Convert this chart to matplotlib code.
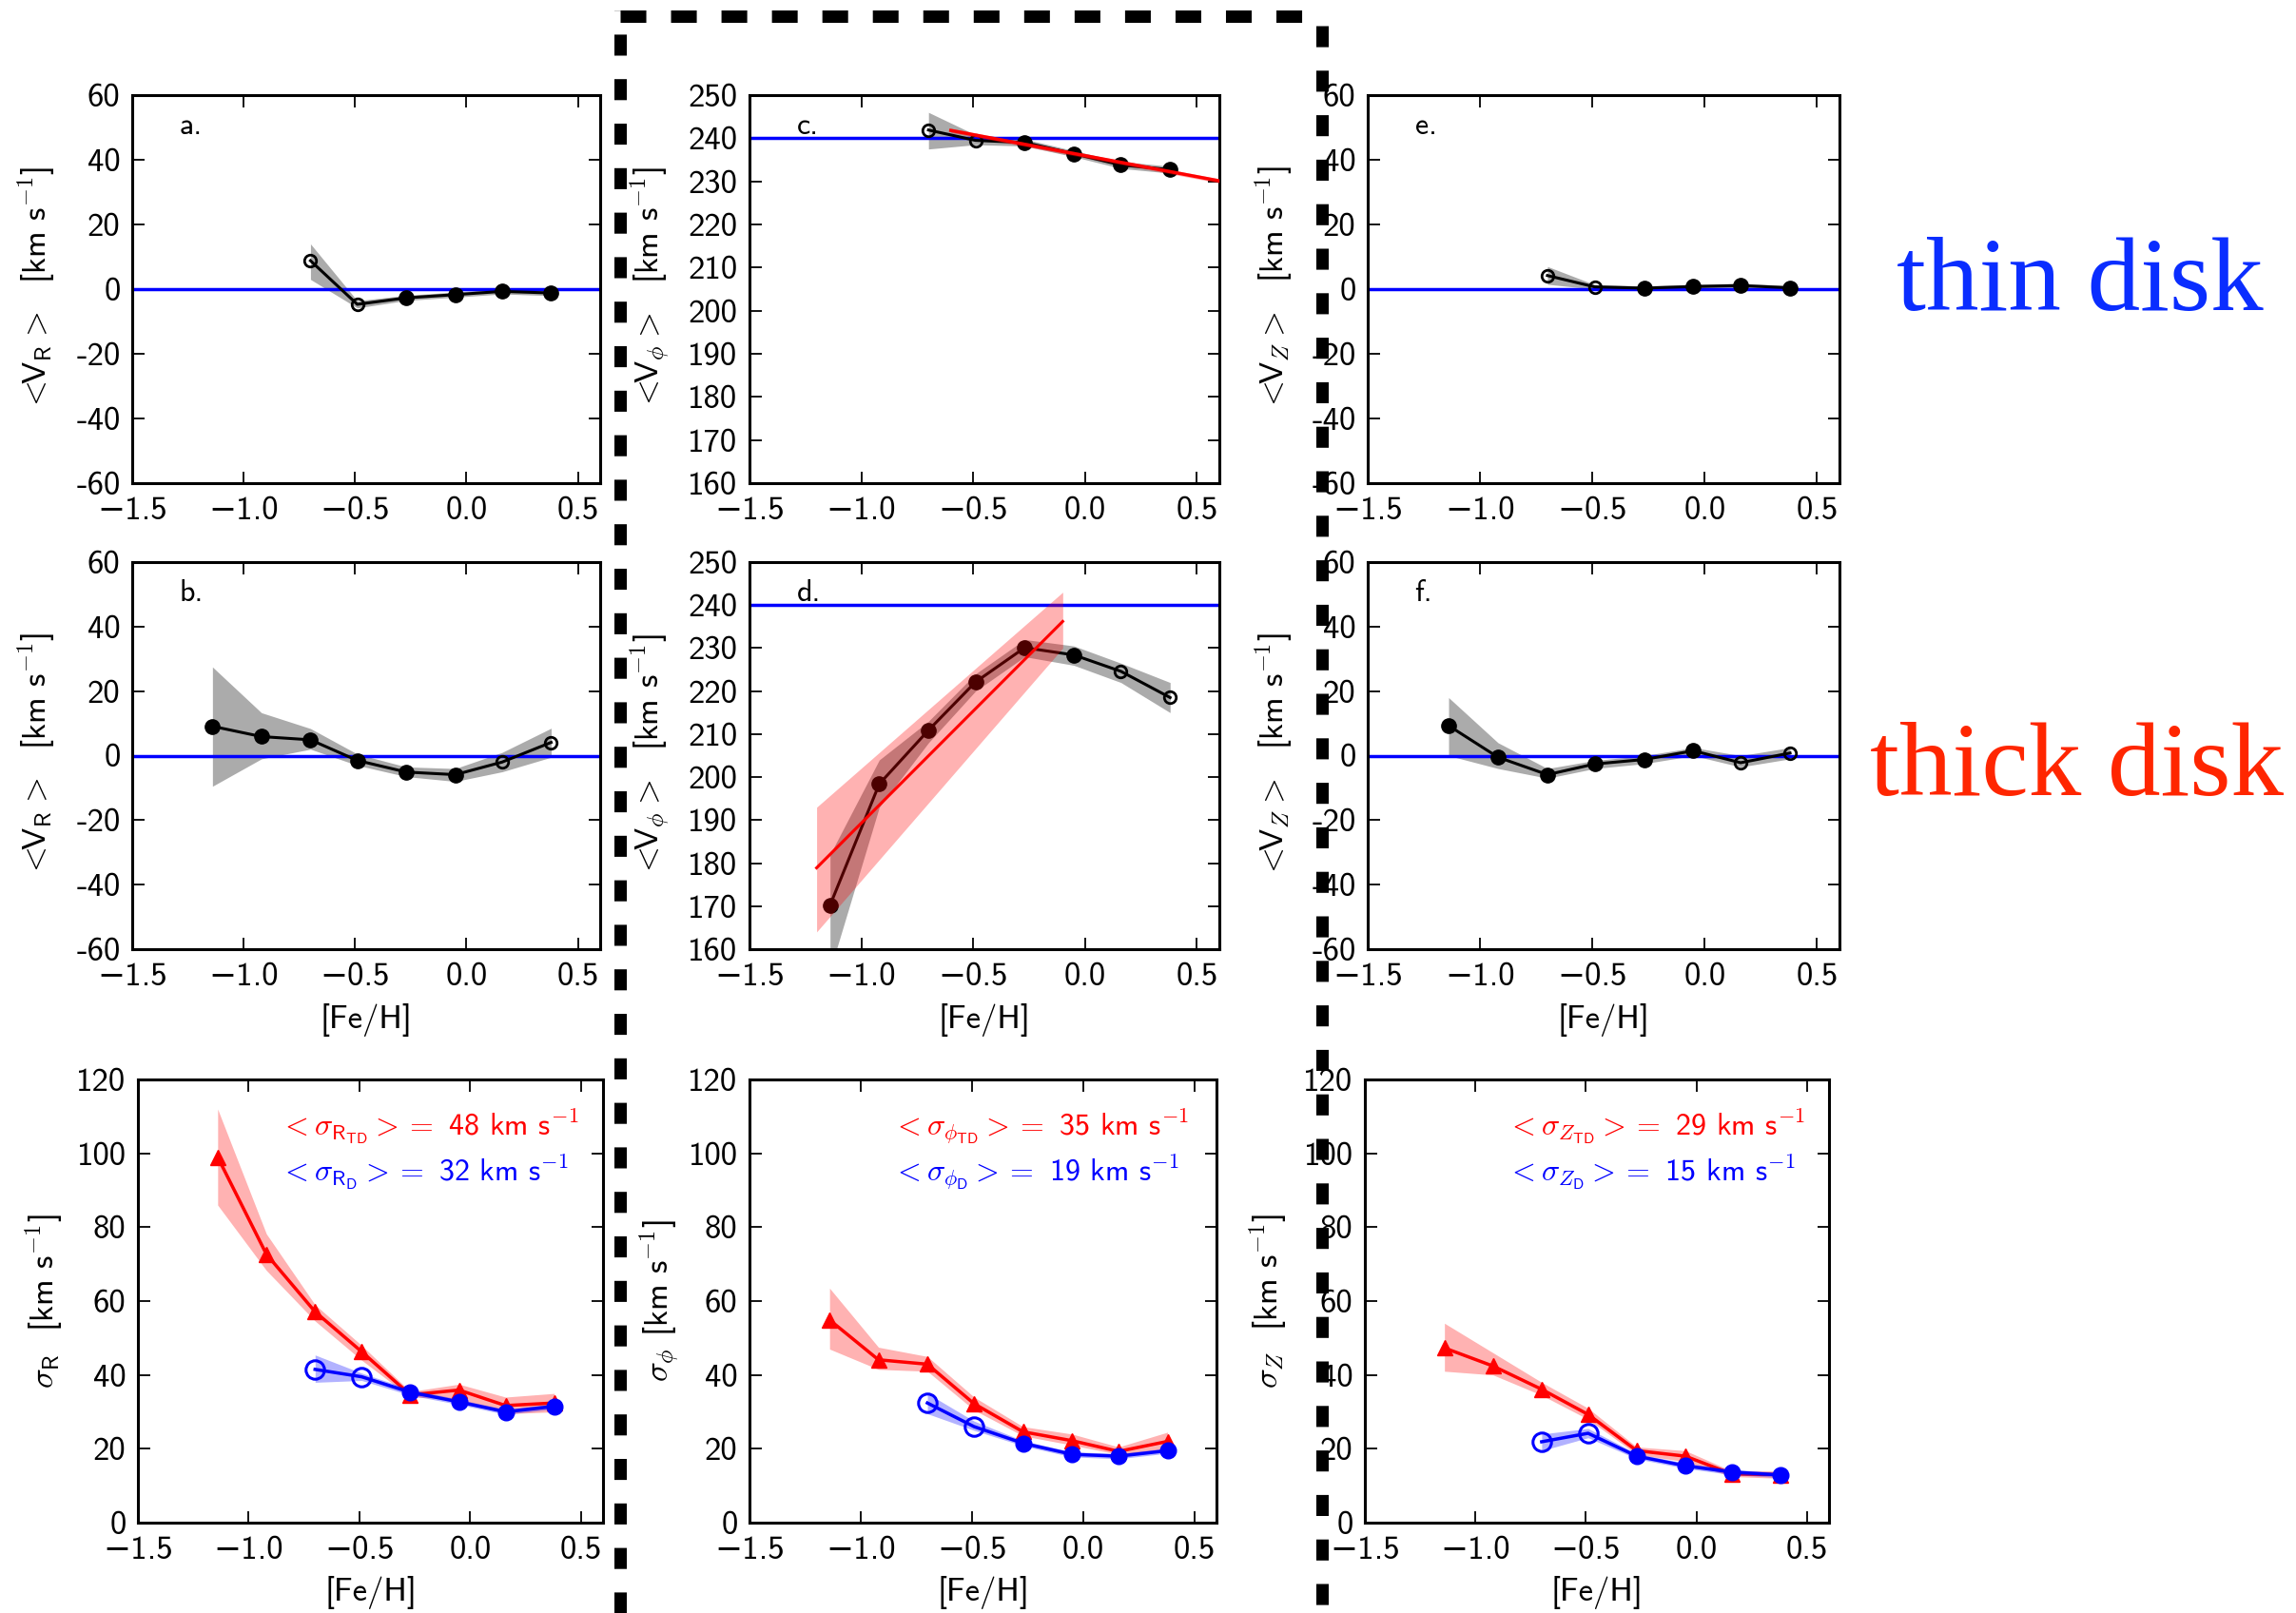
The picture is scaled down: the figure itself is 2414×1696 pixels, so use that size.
import numpy as np
import matplotlib
matplotlib.use("Agg")
import matplotlib.pyplot as plt
from matplotlib.lines import Line2D

plt.rcParams["font.family"] = ["cmss10", "DejaVu Sans"]
plt.rcParams["mathtext.fontset"] = "cm"
plt.rcParams["axes.unicode_minus"] = True

W, H, DPI = 2414, 1696, 100

# -----------------------------
# Data
# -----------------------------
feh = np.array([-1.14, -0.92, -0.70, -0.49, -0.27, -0.05, 0.16, 0.38])
feh_d = feh[2:]                     # thin disk bins
open_d = np.array([True, True, False, False, False, False])
open_td = np.array([False] * 6 + [True, True])

# thin disk mean velocities
vr_d = [8.8, -4.7, -2.7, -1.7, -0.7, -1.2]
vr_d_lo = [3.0, -5.8, -3.5, -2.5, -1.5, -2.0]
vr_d_hi = [14.0, -3.6, -1.9, -0.9, 0.1, -0.4]

vphi_d = [241.9, 239.5, 239.0, 236.4, 233.8, 232.7]
vphi_d_lo = [237.5, 238.5, 238.2, 235.7, 233.0, 231.9]
vphi_d_hi = [246.0, 240.8, 239.8, 237.1, 234.6, 233.5]

vz_d = [4.2, 0.7, 0.3, 0.8, 1.1, 0.4]
vz_d_lo = [1.5, 0.0, -0.4, 0.1, 0.4, -0.3]
vz_d_hi = [7.0, 1.4, 1.0, 1.5, 1.8, 1.1]

# thick disk mean velocities
vr_td = [9.1, 5.9, 4.9, -1.5, -5.1, -5.9, -2.0, 4.1]
vr_td_lo = [-9.5, -1.0, 2.0, -3.0, -6.5, -8.0, -5.0, -0.5]
vr_td_hi = [27.5, 13.3, 8.4, 0.5, -3.5, -4.0, 1.0, 8.5]

vphi_td = [170.2, 198.4, 210.9, 222.1, 230.1, 228.4, 224.6, 218.5]
vphi_td_lo = [155.0, 193.0, 208.0, 220.0, 228.0, 226.0, 222.0, 215.0]
vphi_td_hi = [182.0, 204.0, 213.0, 224.0, 232.0, 230.5, 226.5, 222.0]

vz_td = [9.3, -0.5, -5.9, -2.6, -1.2, 1.5, -2.2, 0.8]
vz_td_lo = [0.0, -4.0, -7.0, -4.0, -2.5, 0.0, -3.5, -1.0]
vz_td_hi = [18.0, 4.0, -4.0, -1.5, 0.0, 2.5, 0.0, 2.5]

# linear fits of V_phi vs [Fe/H]
fit_c_x = [-0.6, 0.6]
fit_c_y = [241.8, 230.1]
fit_c_lo = [241.3, 229.6]
fit_c_hi = [242.3, 230.6]
fit_d_x = [-1.2, -0.1]
fit_d_y = [178.9, 236.2]
fit_d_lo = [164.0, 230.0]
fit_d_hi = [193.0, 243.0]

# velocity dispersions (TD = thick disk, D = thin disk)
sr_td = [99.0, 72.7, 57.1, 46.3, 34.6, 35.9, 31.7, 32.4]
sr_td_lo = [86.0, 68.3, 54.6, 44.0, 34.0, 33.5, 29.5, 30.0]
sr_td_hi = [112.0, 78.2, 59.0, 48.0, 35.5, 37.5, 34.0, 35.0]
sr_d = [41.5, 39.5, 35.3, 32.7, 30.0, 31.5]
sr_d_lo = [38.0, 38.5, 34.5, 32.0, 29.3, 30.8]
sr_d_hi = [45.4, 40.5, 36.1, 33.4, 30.7, 32.2]

sp_td = [54.9, 44.1, 42.9, 32.2, 24.6, 22.2, 19.3, 22.0]
sp_td_lo = [47.0, 41.5, 41.0, 30.5, 23.5, 21.0, 18.5, 19.5]
sp_td_hi = [63.5, 47.5, 45.0, 34.0, 26.0, 24.0, 20.5, 24.5]
sp_d = [32.4, 26.0, 21.5, 18.5, 18.0, 19.5]
sp_d_lo = [29.5, 25.0, 20.8, 17.8, 17.3, 18.8]
sp_d_hi = [35.0, 27.5, 22.2, 19.2, 18.7, 20.2]

sz_td = [47.3, 42.4, 36.1, 29.3, 19.5, 18.0, 13.2, 13.0]
sz_td_lo = [41.0, 40.0, 34.5, 28.0, 18.5, 16.5, 12.5, 12.0]
sz_td_hi = [54.0, 46.0, 38.0, 31.0, 20.5, 19.5, 14.0, 14.0]
sz_d = [21.9, 24.2, 18.0, 15.4, 13.7, 12.9]
sz_d_lo = [19.5, 23.0, 17.3, 14.7, 13.0, 12.2]
sz_d_hi = [24.0, 25.5, 18.7, 16.1, 14.4, 13.6]

mean_sig = {"R": (48, 32), "phi": (35, 19), "Z": (29, 15)}

xticks = [-1.5, -1.0, -0.5, 0.0, 0.5]
xticklabels = ["\u22121.5", "\u22121.0", "\u22120.5", "0.0", "0.5"]
vticks = [-60, -40, -20, 0, 20, 40, 60]
vticklabels = ["-60", "-40", "-20", "0", "20", "40", "60"]
phiticks = list(range(160, 251, 10))
sigticks = list(range(0, 121, 20))

# -----------------------------
# Layout (pixel boxes: left, top, right, bottom)
# -----------------------------
fig = plt.figure(figsize=(W / DPI, H / DPI), dpi=DPI)


def add_ax(l, t, r, b):
    return fig.add_axes([l / W, 1 - b / H, (r - l) / W, (b - t) / H])


rows12 = [(100, 508), (591, 998)]
cols12 = [(139, 631), (788, 1282), (1438, 1934)]
row3 = (1135, 1601)
cols3 = [(145, 634), (788, 1279), (1435, 1923)]
ylab_x12 = [38, 683, 1339]
ylab_x3 = [46, 693, 1333]

FS = 25


def style(ax, box, ylabx, yticks, yticklabels, ylim, xlabel=False, xlab_y=None):
    l, t, r, b = box
    ax.set_xlim(-1.5, 0.6)
    ax.set_ylim(*ylim)
    ax.set_xticks(xticks, labels=xticklabels)
    ax.set_yticks(yticks, labels=yticklabels)
    ax.tick_params(direction="in", top=True, right=True, length=9, width=1.3,
                   labelsize=FS, pad=9)
    ax.tick_params(axis="x", pad=10)
    for s in ax.spines.values():
        s.set_linewidth(2.2)
    ax.yaxis.set_label_coords((ylabx - l) / (r - l), 0.5)
    if xlabel:
        ax.set_xlabel("[Fe/H]", fontsize=FS, va="center")
        ax.xaxis.set_label_coords(0.5, -(xlab_y - b) / (b - t))


def mean_panel(ax, x, y, lo, hi, is_open, href):
    x = np.asarray(x)
    y = np.asarray(y)
    ax.fill_between(x, lo, hi, color="k", alpha=0.33, lw=0, zorder=1)
    ax.axhline(href, color="b", lw=2.5, zorder=2)
    ax.plot(x, y, "-", color="k", lw=2.2, zorder=3)
    ax.plot(x[~is_open], y[~is_open], "o", color="k", ms=11, zorder=4)
    ax.plot(x[is_open], y[is_open], "o", mfc="none", mec="k", mew=2, ms=9, zorder=4)


def letter(ax, s):
    ax.text(0.1, 0.9, s, transform=ax.transAxes, fontsize=23, va="baseline")


ylabels = [r"$<\!\!$V$_\mathsf{R}$ $\!\!>$  [km s$^{-\mathsf{1}}$]",
           r"$<\!\!$V$_\phi$ $\!\!>$  [km s$^{-\mathsf{1}}$]",
           r"$<\!\!$V$_Z$ $\!\!>$  [km s$^{-\mathsf{1}}$]"]

thin = [(vr_d, vr_d_lo, vr_d_hi, 0), (vphi_d, vphi_d_lo, vphi_d_hi, 240),
        (vz_d, vz_d_lo, vz_d_hi, 0)]
thick = [(vr_td, vr_td_lo, vr_td_hi, 0), (vphi_td, vphi_td_lo, vphi_td_hi, 240),
         (vz_td, vz_td_lo, vz_td_hi, 0)]
letters = [["a.", "c.", "e."], ["b.", "d.", "f."]]

for ri, (t, b) in enumerate(rows12):
    data = thin if ri == 0 else thick
    for ci, (l, r) in enumerate(cols12):
        ax = add_ax(l, t, r, b)
        y, lo, hi, href = data[ci]
        if ri == 0:
            mean_panel(ax, feh_d, y, lo, hi, open_d, href)
        else:
            mean_panel(ax, feh, y, lo, hi, open_td, href)
        if ci == 1:
            yt, ytl, yl = phiticks, [str(v) for v in phiticks], (160, 250)
        else:
            yt, ytl, yl = vticks, vticklabels, (-60, 60)
        ax.set_ylabel(ylabels[ci], fontsize=FS, va="center")
        style(ax, (l, t, r, b), ylab_x12[ci], yt, ytl, yl,
              xlabel=(ri == 1), xlab_y=1073)
        letter(ax, letters[ri][ci])
        if ci == 1 and ri == 0:
            ax.fill_between(fit_c_x, fit_c_lo, fit_c_hi, color="r", alpha=0.3,
                            lw=0, zorder=5)
            ax.plot(fit_c_x, fit_c_y, color="r", lw=2.5, zorder=6)
        if ci == 1 and ri == 1:
            ax.fill_between(fit_d_x, fit_d_lo, fit_d_hi, color="r", alpha=0.3,
                            lw=0, zorder=5)
            ax.plot(fit_d_x, fit_d_y, color="r", lw=2.2, zorder=6)

# dispersion panels
sig = [(sr_td, sr_td_lo, sr_td_hi, sr_d, sr_d_lo, sr_d_hi, "R"),
       (sp_td, sp_td_lo, sp_td_hi, sp_d, sp_d_lo, sp_d_hi, "phi"),
       (sz_td, sz_td_lo, sz_td_hi, sz_d, sz_d_lo, sz_d_hi, "Z")]
sig_sym = {"R": r"\mathsf{R}", "phi": r"\phi", "Z": "Z"}
sig_lab = [r"$\sigma_\mathsf{R}$  [km s$^{-\mathsf{1}}$]",
           r"$\sigma_\phi$ [km s$^{-\mathsf{1}}$]",
           r"$\sigma_Z$  [km s$^{-\mathsf{1}}$]"]

t, b = row3
for ci, (l, r) in enumerate(cols3):
    ax = add_ax(l, t, r, b)
    s_td, s_td_lo, s_td_hi, s_d, s_d_lo, s_d_hi, key = sig[ci]
    ax.fill_between(feh, s_td_lo, s_td_hi, color="r", alpha=0.3, lw=0, zorder=1)
    ax.plot(feh, s_td, "-", color="r", lw=2.5, zorder=2)
    ax.plot(feh, s_td, "^", color="r", mec="r", ms=12, zorder=3)
    sd = np.asarray(s_d)
    ax.fill_between(feh_d, s_d_lo, s_d_hi, color="b", alpha=0.3, lw=0, zorder=4)
    ax.plot(feh_d, sd, "-", color="b", lw=2.5, zorder=5)
    ax.plot(feh_d[~open_d], sd[~open_d], "o", color="b", mec="b", ms=12, zorder=6)
    ax.plot(feh_d[open_d], sd[open_d], "o", mfc="none", mec="b", mew=2.2, ms=14,
            zorder=6)
    m_td, m_d = mean_sig[key]
    sym = sig_sym[key]
    ax.text(0.305, 0.893,
            r"$<\sigma_{%s_{\mathsf{TD}}}>=$ %d km s$^{-\mathsf{1}}$" % (sym, m_td),
            transform=ax.transAxes, color="r", fontsize=23, va="center")
    ax.text(0.305, 0.79,
            r"$<\sigma_{%s_{\mathsf{D}}}>=$ %d km s$^{-\mathsf{1}}$" % (sym, m_d),
            transform=ax.transAxes, color="b", fontsize=23, va="center")
    ax.set_ylabel(sig_lab[ci], fontsize=FS, va="center")
    style(ax, (l, t, r, b), ylab_x3[ci], sigticks, [str(v) for v in sigticks],
          (0, 120), xlabel=True, xlab_y=1675)

# population labels
fig.text(2187 / W, 1 - 326 / H, "thin disk", family=["Liberation Serif"],
         fontsize=80, color="#0a2dff", ha="center", va="baseline")
fig.text(2184 / W, 1 - 836 / H, "thick disk", family=["Liberation Serif"],
         fontsize=80, color="#ff2600", ha="center", va="baseline")

# dashed frame around the V_phi column
lw_px = 13
lw_pt = lw_px * 72 / DPI
x_left, x_right, y_top = 652, 1390, 17
for xs, ys, dash in [([x_left, x_left], [H, y_top - lw_px / 2], (1.7, 1.9)),
                     ([x_left, x_right], [y_top, y_top], (2.08, 2.0)),
                     ([x_right, x_right], [y_top + 10, H], (1.7, 1.9))]:
    ln = Line2D([v / W for v in xs], [1 - v / H for v in ys],
                transform=fig.transFigure, color="k", lw=lw_pt,
                linestyle=(0, dash), solid_capstyle="butt", dash_capstyle="butt")
    fig.add_artist(ln)

fig.savefig("out.png", dpi=DPI)
